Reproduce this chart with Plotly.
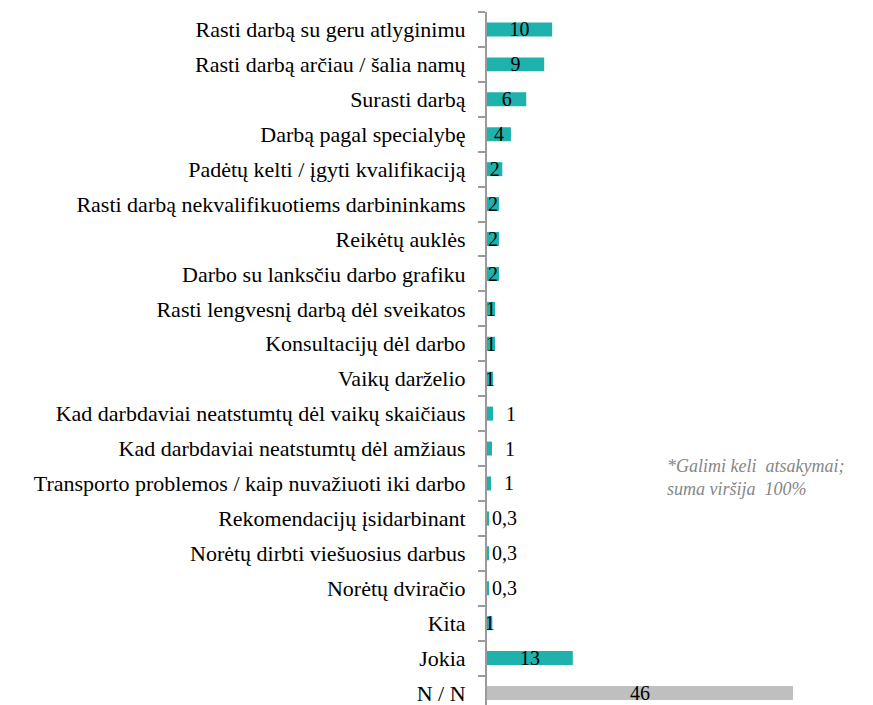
import plotly.graph_objects as go

# Categories, top to bottom
categories = [
    "Rasti darbą su geru atlyginimu",
    "Rasti darbą arčiau / šalia namų",
    "Surasti darbą",
    "Darbą pagal specialybę",
    "Padėtų kelti / įgyti kvalifikaciją",
    "Rasti darbą nekvalifikuotiems darbininkams",
    "Reikėtų auklės",
    "Darbo su lanksčiu darbo grafiku",
    "Rasti lengvesnį darbą dėl sveikatos",
    "Konsultacijų dėl darbo",
    "Vaikų darželio",
    "Kad darbdaviai neatstumtų dėl vaikų skaičiaus",
    "Kad darbdaviai neatstumtų dėl amžiaus",
    "Transporto problemos / kaip nuvažiuoti iki darbo",
    "Rekomendacijų įsidarbinant",
    "Norėtų dirbti viešuosius darbus",
    "Norėtų dviračio",
    "Kita",
    "Jokia",
    "N / N",
]

# Share of respondents, %
values = [9.8, 8.6, 5.9, 3.6, 2.3, 1.8, 1.8, 1.8, 1.2, 1.2,
          0.9, 0.9, 0.75, 0.6, 0.3, 0.3, 0.3, 0.8, 12.9, 46]

# Label placement per bar
label_pos = ["inside"] * 11 + ["outside"] * 6 + ["inside"] * 2 + ["inside"]

bar_colors = ["#1FB2AD"] * 19 + ["#BFBFBF"]

SERIF = "Liberation Serif"


def fmt(v, pos):
    if v < 0.5:
        s = f"{v:.1f}".replace(".", ",")
    else:
        s = f"{v:.0f}"
    if pos == "outside" and v >= 0.5:
        s = "\u00a0\u00a0" + s
    return s


labels = [fmt(v, p) for v, p in zip(values, label_pos)]

W, H = 873, 705
ML, MR, MT, MB = 487, 13, 12, 0
px_per_unit = (793 - 487) / 46.0
x_max = (W - ML - MR) / px_per_unit

fig = go.Figure(
    go.Bar(
        x=values,
        y=categories,
        orientation="h",
        marker=dict(color=bar_colors, line=dict(width=0)),
        width=0.4,
        text=labels,
        textposition=label_pos,
        textangle=0,
        insidetextanchor="middle",
        constraintext="none",
        cliponaxis=False,
        textfont=dict(family=SERIF, size=20, color="#000000"),
        hoverinfo="skip",
    )
)

fig.update_layout(
    width=W,
    height=H,
    margin=dict(l=ML, r=MR, t=MT, b=MB),
    paper_bgcolor="white",
    plot_bgcolor="white",
    showlegend=False,
    font=dict(family=SERIF, size=20, color="#000000"),
    xaxis=dict(
        range=[0, x_max],
        visible=False,
        showgrid=False,
        zeroline=False,
        fixedrange=True,
    ),
    yaxis=dict(
        type="category",
        categoryorder="array",
        categoryarray=categories,
        range=[19 + (705 - 693) / 34.95, -0.5],
        showline=True,
        linecolor="#9A9A9A",
        linewidth=2,
        ticks="outside",
        tickson="boundaries",
        ticklen=7,
        tickwidth=1.5,
        tickcolor="#9A9A9A",
        ticklabelstandoff=15,
        showgrid=False,
        zeroline=False,
        automargin=False,
        tickfont=dict(family=SERIF, size=22, color="#000000"),
    ),
    annotations=[
        dict(
            text="<i>*Galimi keli  atsakymai;<br>suma viršija  100%</i>",
            xref="paper",
            yref="paper",
            x=(665 - ML) / (W - ML - MR),
            y=1 - (478 - MT) / (H - MT - MB),
            xanchor="left",
            yanchor="middle",
            align="left",
            showarrow=False,
            font=dict(family=SERIF, size=18, color="#868686"),
        )
    ],
)

fig.write_html("out.html")
